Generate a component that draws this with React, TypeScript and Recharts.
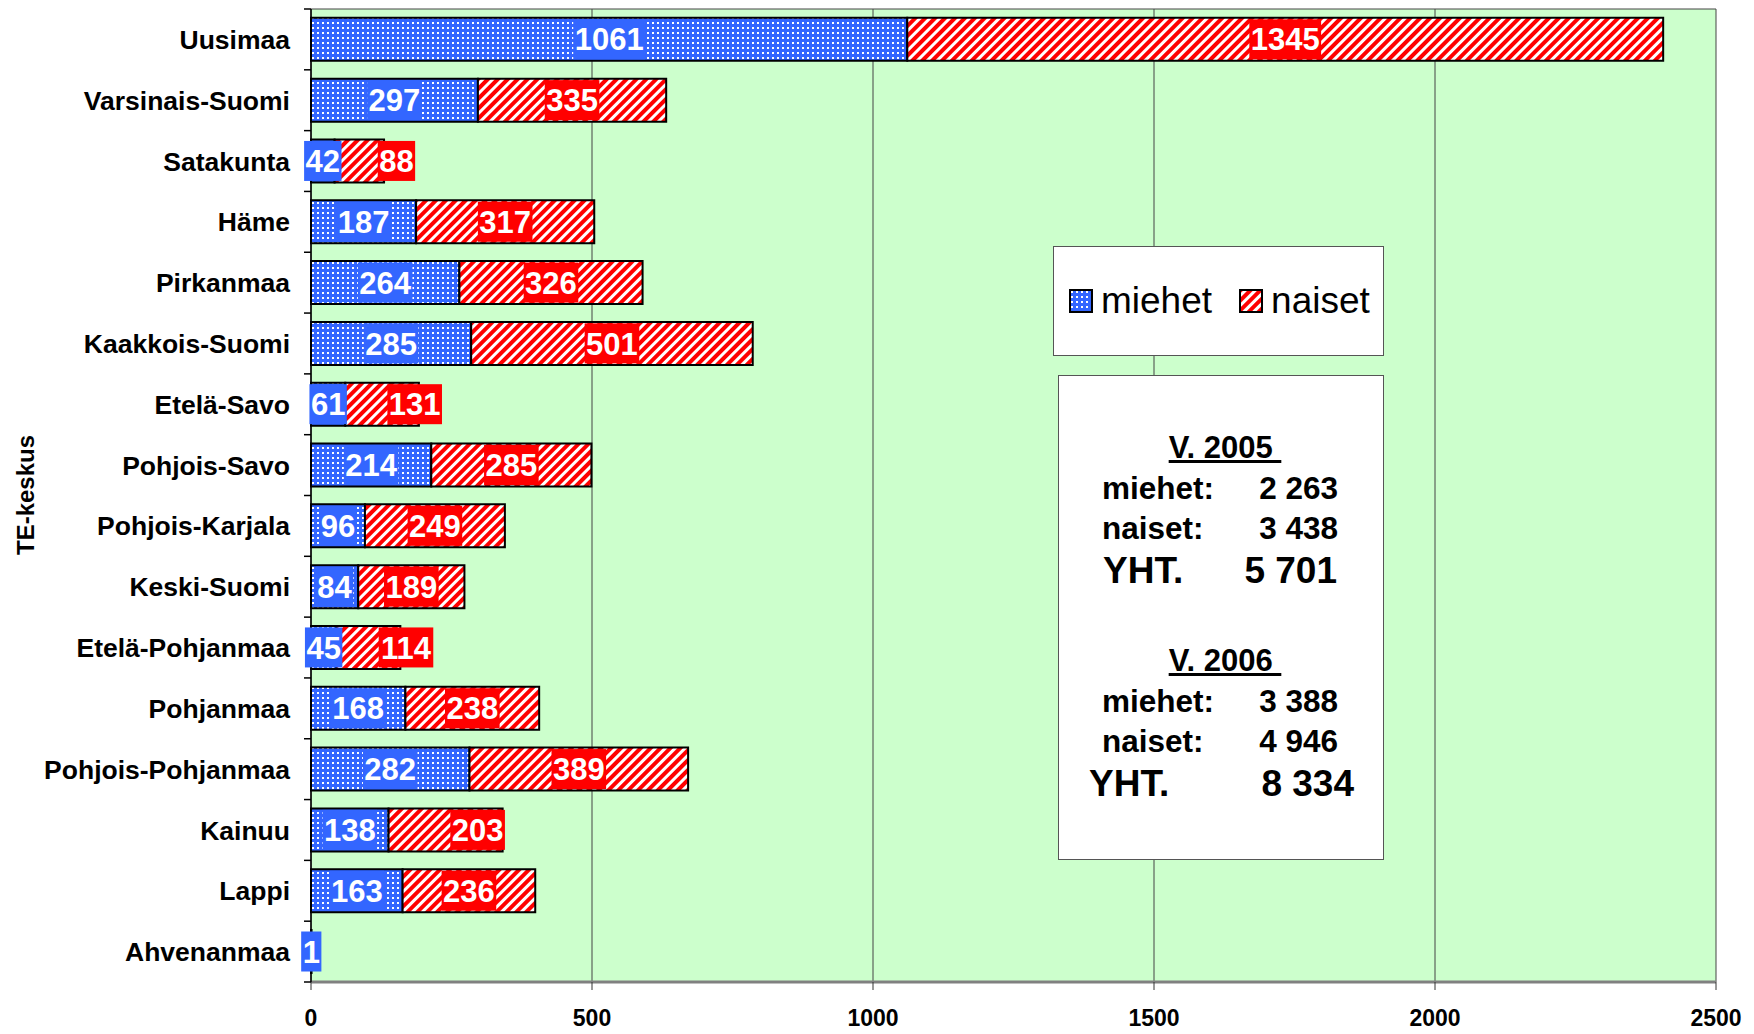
import React from 'react';
import { BarChart, Bar, XAxis, YAxis, CartesianGrid, LabelList, Legend } from 'recharts';

const regions = [
  'Uusimaa', 'Varsinais-Suomi', 'Satakunta', 'Häme', 'Pirkanmaa', 'Kaakkois-Suomi',
  'Etelä-Savo', 'Pohjois-Savo', 'Pohjois-Karjala', 'Keski-Suomi', 'Etelä-Pohjanmaa',
  'Pohjanmaa', 'Pohjois-Pohjanmaa', 'Kainuu', 'Lappi', 'Ahvenanmaa',
];
const miehet = [1061, 297, 42, 187, 264, 285, 61, 214, 96, 84, 45, 168, 282, 138, 163, 1];
const naiset = [1345, 335, 88, 317, 326, 501, 131, 285, 249, 189, 114, 238, 389, 203, 236, 0];
const xTicks = [0, 500, 1000, 1500, 2000, 2500];

const summary2005 = [['miehet:', '2 263'], ['naiset:', '3 438'], ['YHT.', '5 701']];
const summary2006 = [['miehet:', '3 388'], ['naiset:', '4 946'], ['YHT.', '8 334']];

// a few naiset labels were dragged to the right in the original (in axis units)
const naisetLabelShift = [0, 0, 66, 0, 0, 0, 58, 0, 0, 0, 67, 0, 0, 57, 0, 0];

const data = regions.map((region, i) => ({ region, miehet: miehet[i], naiset: naiset[i] }));

const BLUE = '#3366FF';
const RED = '#FF0000';
const FONT = '"Liberation Sans", Arial, Helvetica, sans-serif';

const CHART_W = 1754;
const CHART_H = 1034;
const MARGIN = { top: 9, right: 38, bottom: 2, left: 10 };
const Y_AXIS_W = 301;
const X_AXIS_H = 50;
const PLOT_H = CHART_H - MARGIN.top - MARGIN.bottom - X_AXIS_H;

function CategoryTick(props: any) {
  const { x, y, payload, index } = props;
  const axisX = x + 21;
  const half = PLOT_H / regions.length / 2;
  return (
    <g>
      <line x1={axisX - 7} x2={axisX} y1={y - half} y2={y - half} stroke="#000" strokeWidth={1.5} />
      {index === regions.length - 1 && (
        <line x1={axisX - 7} x2={axisX} y1={y + half} y2={y + half} stroke="#000" strokeWidth={1.5} />
      )}
      <text x={x} y={y} dy="0.36em" textAnchor="end" fill="#000" fontSize={26.5} fontWeight="bold" fontFamily={FONT}>
        {payload.value}
      </text>
    </g>
  );
}

function ValueBox(props: any) {
  const { x, y, width, height, value, fill, shift = 0 } = props;
  if (!value) return null;
  const text = String(value);
  const w = text.length * 17.2 + 3;
  const pxPerUnit = Number(width) / Number(value);
  const cx = Number(x) + Number(width) / 2 + shift * pxPerUnit;
  const cy = Number(y) + Number(height) / 2;
  return (
    <g>
      <rect x={cx - w / 2} y={Number(y) + 1.5} width={w} height={Number(height) - 3} fill={fill} />
      <text x={cx} y={cy} dy="0.36em" textAnchor="middle" fill="#fff" fontSize={31} fontWeight="bold" fontFamily={FONT}>
        {text}
      </text>
    </g>
  );
}

function Swatch({ kind }: { kind: 'dots' | 'stripes' }) {
  return (
    <svg width={24} height={24} style={{ display: 'block' }}>
      <defs>
        <pattern id={`lg-${kind}`} width={kind === 'dots' ? 5 : 7} height={kind === 'dots' ? 5 : 7} patternUnits="userSpaceOnUse"
          patternTransform={kind === 'stripes' ? 'rotate(45)' : undefined}>
          {kind === 'dots' ? (
            <>
              <rect width={5} height={5} fill={BLUE} />
              <rect x={2} y={2} width={2} height={2} fill="#fff" />
            </>
          ) : (
            <>
              <rect width={7} height={7} fill="#fff" />
              <rect width={4} height={7} fill={RED} />
            </>
          )}
        </pattern>
      </defs>
      <rect x={1} y={1} width={22} height={22} fill={`url(#lg-${kind})`} stroke="#000" strokeWidth={2} />
    </svg>
  );
}

function LegendBox() {
  const items: { name: string; kind: 'dots' | 'stripes' }[] = [
    { name: 'miehet', kind: 'dots' },
    { name: 'naiset', kind: 'stripes' },
  ];
  return (
    <div style={{
      width: 331, height: 110, boxSizing: 'border-box', background: '#fff', border: '1.5px solid #555',
      display: 'flex', alignItems: 'center', paddingLeft: 15, fontFamily: FONT,
    }}>
      {items.map((it, i) => (
        <div key={it.name} style={{ display: 'flex', alignItems: 'center', marginRight: i === 0 ? 27 : 0 }}>
          <Swatch kind={it.kind} />
          <span style={{ fontSize: 37, marginLeft: 8, color: '#000', lineHeight: '40px' }}>{it.name}</span>
        </div>
      ))}
    </div>
  );
}

function SummaryBlock({ title, rows, top, totalIndent }: { title: string; rows: string[][]; top: number; totalIndent: [number, number] }) {
  return (
    <div style={{ position: 'absolute', left: 0, top, width: '100%' }}>
      <div style={{ textAlign: 'center', fontSize: 31, fontWeight: 'bold', lineHeight: '40px', textDecoration: 'underline', whiteSpace: 'pre', paddingLeft: 8 }}>
        {title}
      </div>
      {rows.map((r, i) => {
        const total = i === rows.length - 1;
        const [l, rr] = total ? totalIndent : [43, 281];
        return (
          <div key={i} style={{ position: 'relative', height: total ? 46 : 40, fontSize: total ? 37 : 31.5, fontWeight: 'bold', lineHeight: total ? '46px' : '40px' }}>
            <span style={{ position: 'absolute', left: l }}>{r[0]}</span>
            <span style={{ position: 'absolute', right: 326 - rr }}>{r[1]}</span>
          </div>
        );
      })}
    </div>
  );
}

export default function App() {
  return (
    <div style={{ position: 'absolute', left: 0, top: 0, width: CHART_W, height: CHART_H, background: '#fff', fontFamily: FONT }}>
      <BarChart
        width={CHART_W}
        height={CHART_H}
        data={data}
        layout="vertical"
        margin={MARGIN}
        barCategoryGap="14.5%"
      >
        <defs>
          <pattern id="dots" width={5} height={5} patternUnits="userSpaceOnUse">
            <rect width={5} height={5} fill={BLUE} />
            <rect x={2} y={2} width={2} height={2} fill="#fff" />
          </pattern>
          <pattern id="stripes" width={7} height={7} patternUnits="userSpaceOnUse" patternTransform="rotate(45)">
            <rect width={7} height={7} fill="#fff" />
            <rect width={4} height={7} fill={RED} />
          </pattern>
        </defs>
        <CartesianGrid
          fill="#CCFFCC"
          stroke="#444"
          horizontalCoordinatesGenerator={(p: any) => [p.offset.top]}
        />
        <XAxis
          type="number"
          domain={[0, 2500]}
          ticks={xTicks}
          interval={0}
          height={X_AXIS_H}
          axisLine={{ stroke: '#808080', strokeWidth: 3 }}
          tickLine={{ stroke: '#333' }}
          tickSize={8}
          tickMargin={20}
          tick={{ fill: '#000', fontSize: 23, fontWeight: 'bold', fontFamily: FONT }}
        />
        <YAxis
          type="category"
          dataKey="region"
          width={Y_AXIS_W}
          interval={0}
          axisLine={{ stroke: '#000', strokeWidth: 1.5 }}
          tickLine={false}
          tickSize={7}
          tickMargin={14}
          tick={<CategoryTick />}
        />
        <Legend
          layout="horizontal"
          verticalAlign="middle"
          align="center"
          wrapperStyle={{ left: 1053, top: 246, width: 331, height: 110 }}
          content={() => <LegendBox />}
        />
        <Bar dataKey="miehet" stackId="a" fill="url(#dots)" stroke="#000" strokeWidth={2} isAnimationActive={false}>
          <LabelList dataKey="miehet" content={(p: any) => <ValueBox {...p} fill={BLUE} />} />
        </Bar>
        <Bar dataKey="naiset" stackId="a" fill="url(#stripes)" stroke="#000" strokeWidth={2} isAnimationActive={false}>
          <LabelList
            dataKey="naiset"
            content={(p: any) => <ValueBox {...p} fill={RED} shift={naisetLabelShift[p.index] ?? 0} />}
          />
        </Bar>
      </BarChart>

      <div style={{ position: 'absolute', left: 17, top: 495, width: 0, height: 0 }}>
        <div style={{
          position: 'absolute', transform: 'translate(-50%, -50%) rotate(-90deg)', whiteSpace: 'nowrap',
          fontSize: 24, fontWeight: 'bold', color: '#000', left: 9, top: 0,
        }}>
          TE-keskus
        </div>
      </div>

      <div style={{
        position: 'absolute', left: 1058, top: 375, width: 326, height: 485, boxSizing: 'border-box',
        background: '#fff', border: '1.5px solid #555', color: '#000',
      }}>
        <SummaryBlock title="V. 2005 " rows={summary2005} top={52} totalIndent={[44, 280]} />
        <SummaryBlock title="V. 2006 " rows={summary2006} top={265} totalIndent={[30, 297]} />
      </div>
    </div>
  );
}
